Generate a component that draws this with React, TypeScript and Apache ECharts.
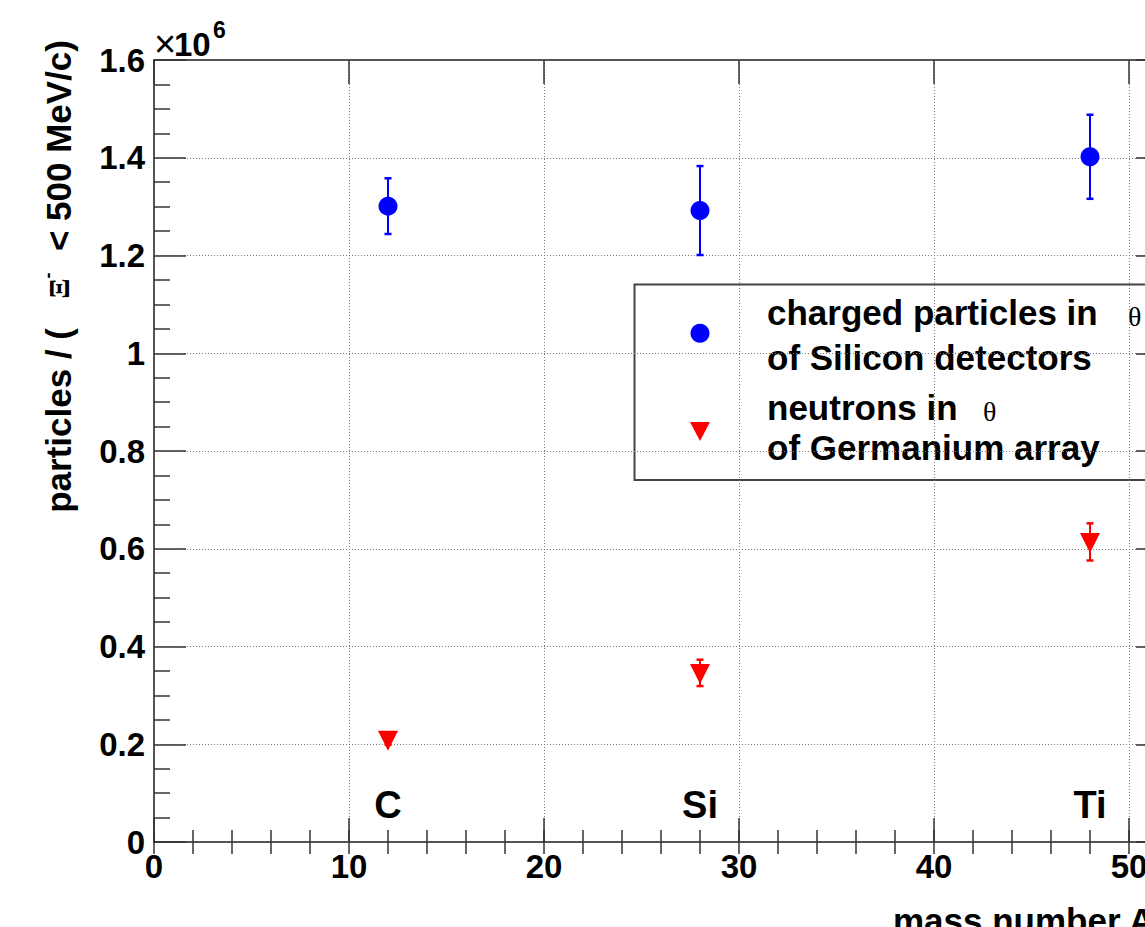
import React, { useEffect, useRef } from "react";
import * as echarts from "echarts";

// ---- data ----
const massNumbers = [12, 28, 48];
const elementNames = ["C", "Si", "Ti"];
const chargedValues = [1.301, 1.292, 1.402];
const chargedErrors = [0.057, 0.091, 0.086];
const neutronValues = [0.209, 0.346, 0.614];
const neutronErrors = [0.01, 0.027, 0.038];
const elementLabelLevel = 0.076;
const xRange = [0, 52];
const yRange = [0, 1.6];
const chargedName = "charged particles in θ of Silicon detectors";
const neutronName = "neutrons in θ of Germanium array";

const SANS = "'Liberation Sans', Arial, Helvetica, sans-serif";
const SERIF = "'Liberation Serif', 'DejaVu Serif', serif";
const AXIS_COLOR = "#555";
const TICK_COLOR = "#333";
const GRID_COLOR = "#7a7a7a";

function errorBarSeries(name: string, values: number[], errors: number[], color: string) {
  return {
    type: "custom",
    name: name + " errors",
    xAxisIndex: 0,
    yAxisIndex: 0,
    encode: { x: 0, y: 1 },
    data: massNumbers.map((a, i) => [a, values[i], errors[i]]),
    renderItem: (_params: any, api: any) => {
      const x = api.value(0);
      const y = api.value(1);
      const e = api.value(2);
      const top = api.coord([x, y + e]);
      const bot = api.coord([x, y - e]);
      const style = { stroke: color, lineWidth: 2 };
      return {
        type: "group",
        children: [
          { type: "line", shape: { x1: top[0], y1: top[1], x2: bot[0], y2: bot[1] }, style },
          { type: "line", shape: { x1: top[0] - 3.5, y1: top[1], x2: top[0] + 3.5, y2: top[1] }, style: { stroke: color, lineWidth: 2.5 } },
          { type: "line", shape: { x1: bot[0] - 3.5, y1: bot[1], x2: bot[0] + 3.5, y2: bot[1] }, style: { stroke: color, lineWidth: 2.5 } },
        ],
      };
    },
    z: 2,
  };
}

export default function App() {
  const ref = useRef<HTMLDivElement>(null);

  useEffect(() => {
    if (!ref.current) return;
    const chart = echarts.init(ref.current, undefined, { renderer: "svg" });

    const baseX = {
      type: "value",
      min: xRange[0],
      max: xRange[1],
      gridIndex: 0,
      splitLine: { show: false },
      axisLabel: { show: false },
      axisLine: { show: false },
      axisTick: { show: false },
    };
    const baseY = {
      type: "value",
      min: yRange[0],
      max: yRange[1],
      interval: 0.2,
      gridIndex: 0,
      splitLine: { show: false },
      axisLabel: { show: false },
      axisLine: { show: true, onZero: false, lineStyle: { color: AXIS_COLOR, width: 2 } },
      axisTick: { show: true, inside: true, length: 32, lineStyle: { color: TICK_COLOR, width: 1.5 } },
      minorTick: { show: true, splitNumber: 4, length: 16, lineStyle: { color: TICK_COLOR, width: 1.5 } },
    };

    const option: any = {
      animation: false,
      backgroundColor: "#ffffff",
      grid: { left: 154, top: 60, width: 1014, height: 782, containLabel: false },
      xAxis: [
        {
          ...baseX,
          position: "bottom",
          interval: 10,
          axisLine: { show: true, onZero: false, lineStyle: { color: AXIS_COLOR, width: 2 } },
          axisTick: { show: true, inside: true, length: 24, lineStyle: { color: TICK_COLOR, width: 1.5 } },
          splitLine: { show: true, lineStyle: { color: GRID_COLOR, width: 1, type: [1, 2] } },
          axisLabel: {
            show: true,
            margin: 8,
            fontFamily: SANS,
            fontWeight: "bold",
            fontSize: 33,
            color: "#000",
            formatter: (v: number) => (v % 10 === 0 ? String(v) : ""),
          },
        },
        {
          ...baseX,
          position: "bottom",
          interval: 2,
          axisTick: { show: true, inside: true, length: 12, lineStyle: { color: TICK_COLOR, width: 1.5 } },
        },
        {
          ...baseX,
          position: "top",
          interval: 10,
          axisLine: { show: true, onZero: false, lineStyle: { color: AXIS_COLOR, width: 2 } },
          axisTick: { show: true, inside: true, length: 24, lineStyle: { color: TICK_COLOR, width: 1.5 } },
        },
        {
          ...baseX,
          position: "top",
          interval: 2,
          axisTick: { show: true, inside: true, length: 12, lineStyle: { color: TICK_COLOR, width: 1.5 } },
        },
      ],
      yAxis: [
        {
          ...baseY,
          position: "left",
          splitLine: { show: true, lineStyle: { color: GRID_COLOR, width: 1, type: [1, 2] } },
          axisLabel: {
            show: true,
            margin: 9,
            fontFamily: SANS,
            fontWeight: "bold",
            fontSize: 33,
            color: "#000",
          },
        },
        { ...baseY, position: "right" },
      ],
      series: [
        errorBarSeries(chargedName, chargedValues, chargedErrors, "#0000ff"),
        {
          type: "scatter",
          name: chargedName,
          xAxisIndex: 0,
          yAxisIndex: 0,
          symbol: "circle",
          symbolSize: 19,
          itemStyle: { color: "#0000ff", opacity: 1 },
          data: massNumbers.map((a, i) => [a, chargedValues[i]]),
          z: 3,
        },
        errorBarSeries(neutronName, neutronValues, neutronErrors, "#ff0000"),
        {
          type: "scatter",
          name: neutronName,
          xAxisIndex: 0,
          yAxisIndex: 0,
          symbol: "path://M0,0L20,0L10,20Z",
          symbolSize: [20, 20],
          symbolOffset: [0, 1],
          itemStyle: { color: "#ff0000", opacity: 1 },
          data: massNumbers.map((a, i) => [a, neutronValues[i]]),
          z: 3,
        },
        {
          type: "scatter",
          name: "elements",
          xAxisIndex: 0,
          yAxisIndex: 0,
          symbolSize: 1,
          itemStyle: { color: "rgba(255,255,255,0)" },
          silent: true,
          label: {
            show: true,
            position: "inside",
            fontFamily: SANS,
            fontWeight: "bold",
            fontSize: 38,
            color: "#000000",
            opacity: 1,
            textBorderWidth: 0,
            textBorderColor: "transparent",
            formatter: (p: any) => elementNames[p.dataIndex],
          },
          data: massNumbers.map((a) => [a, elementLabelLevel]),
          z: 4,
        },
      ],
      graphic: [
        // y axis title
        {
          type: "text",
          x: 58,
          y: 40,
          rotation: Math.PI / 2,
          style: {
            text: "particles / (   {g|Ξ}{s|-}  < 500 MeV/c)",
            align: "right",
            verticalAlign: "middle",
            fontFamily: SANS,
            fontWeight: "bold",
            fontSize: 35,
            fill: "#000",
            rich: {
              g: { fontFamily: SERIF, fontWeight: "bold", fontSize: 30, fill: "#000" },
              s: { fontFamily: SANS, fontWeight: "bold", fontSize: 18, fill: "#000", verticalAlign: "top", padding: [0, 2, 20, 0] },
            },
          },
        },
        // x axis title
        {
          type: "text",
          x: 893,
          y: 920,
          style: {
            text: "mass number A",
            align: "left",
            verticalAlign: "middle",
            fontFamily: SANS,
            fontWeight: "bold",
            fontSize: 35,
            fill: "#000",
          },
        },
        // exponent ×10^6
        {
          type: "text",
          x: 154,
          y: 44,
          style: { text: "×", align: "left", verticalAlign: "middle", fontFamily: SANS, fontWeight: "normal", fontSize: 38, fill: "#000" },
        },
        {
          type: "text",
          x: 174,
          y: 44,
          style: { text: "10", align: "left", verticalAlign: "middle", fontFamily: SANS, fontWeight: "bold", fontSize: 33, fill: "#000" },
        },
        {
          type: "text",
          x: 213,
          y: 30,
          style: { text: "6", align: "left", verticalAlign: "middle", fontFamily: SANS, fontWeight: "bold", fontSize: 23, fill: "#000" },
        },
        // legend
        {
          type: "group",
          z: 10,
          children: [
            {
              type: "rect",
              shape: { x: 634.5, y: 284.5, width: 640, height: 195.5 },
              style: { fill: "#ffffff", stroke: "#444", lineWidth: 2 },
            },
            { type: "circle", shape: { cx: 700, cy: 333.3, r: 9.5 }, style: { fill: "#0000ff" } },
            {
              type: "polygon",
              shape: { points: [[690, 422], [710, 422], [700, 441]] },
              style: { fill: "#ff0000" },
            },
            { type: "text", x: 767, y: 312.9, style: { text: "charged particles in", verticalAlign: "middle", fontFamily: SANS, fontWeight: "bold", fontSize: 35, fill: "#000" } },
            { type: "text", x: 1128, y: 316, style: { text: "θ", verticalAlign: "middle", fontFamily: SERIF, fontWeight: "normal", fontSize: 28, fill: "#000" } },
            { type: "text", x: 767, y: 357.9, style: { text: "of Silicon detectors", verticalAlign: "middle", fontFamily: SANS, fontWeight: "bold", fontSize: 35, fill: "#000" } },
            { type: "text", x: 767, y: 407.9, style: { text: "neutrons in", verticalAlign: "middle", fontFamily: SANS, fontWeight: "bold", fontSize: 35, fill: "#000" } },
            { type: "text", x: 983, y: 411, style: { text: "θ", verticalAlign: "middle", fontFamily: SERIF, fontWeight: "normal", fontSize: 28, fill: "#000" } },
            { type: "text", x: 767, y: 447.9, style: { text: "of Germanium array", verticalAlign: "middle", fontFamily: SANS, fontWeight: "bold", fontSize: 35, fill: "#000" } },
          ],
        },
      ],
    };

    chart.setOption(option);
    return () => {
      chart.dispose();
    };
  }, []);

  return (
    <div style={{ position: "absolute", left: 0, top: 0, width: 1145, height: 927, overflow: "hidden", background: "#fff" }}>
      <div ref={ref} style={{ width: 1200, height: 927 }} />
    </div>
  );
}
